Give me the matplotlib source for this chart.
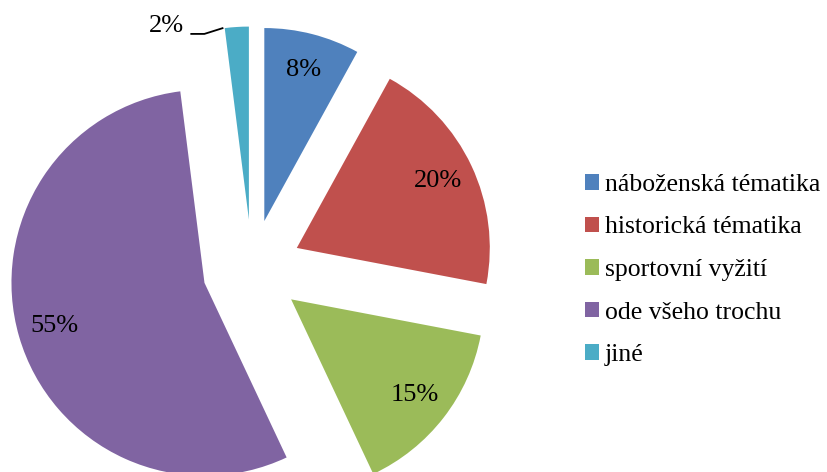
import matplotlib.pyplot as plt
import numpy as np
from matplotlib.patches import Patch

plt.rcParams['font.family'] = ['Liberation Serif', 'DejaVu Serif']

# data
kategorie = ['náboženská tématika', 'historická tématika', 'sportovní vyžití',
             'ode všeho trochu', 'jiné']
hodnoty = [8, 20, 15, 55, 2]
barvy = ['#4F81BD', '#C0504D', '#9BBB59', '#8064A2', '#4BACC6']

fig = plt.figure(figsize=(8.28, 4.72), dpi=100)
ax = fig.add_axes([0, 0, 1, 1])

r = 193
stred = (252, 203)
# explode je v jednotkach dat (pixely)
wedges, texts, autotexts = ax.pie(
    hodnoty, colors=barvy, startangle=90, counterclock=False,
    radius=r, center=stred, explode=[49.5] * len(hodnoty),
    autopct='%1.0f%%', pctdistance=0.81, frame=True,
    textprops={'fontsize': 19, 'color': 'black'})

# maly dilek "jiné" - popisek venku s vodici carou
w = wedges[-1]
x0, y0 = w.center
ang = np.deg2rad(w.theta2 - 0.5)
bx, by = x0 + r * np.cos(ang), y0 + r * np.sin(ang)
autotexts[-1].set_visible(False)
ax.plot([bx - 36, bx - 22, bx - 3], [by - 6, by - 6, by], color='black', lw=1.3,
        solid_capstyle='butt')
ax.text(bx - 42, by + 2, '2%', fontsize=19, ha='right', va='center')

ax.set_xlim(0, 828)
ax.set_ylim(0, 472)
ax.set_aspect('equal')
ax.axis('off')

handles = [Patch(facecolor=c, edgecolor='none') for c in barvy]
fig.legend(handles, kategorie, loc='center left', bbox_to_anchor=(0.706, 0.428),
           frameon=False, fontsize=18.5, handlelength=0.55, handleheight=0.55,
           handletextpad=0.25, labelspacing=0.8, borderaxespad=0, borderpad=0)

fig.savefig('out.png', dpi=100)
